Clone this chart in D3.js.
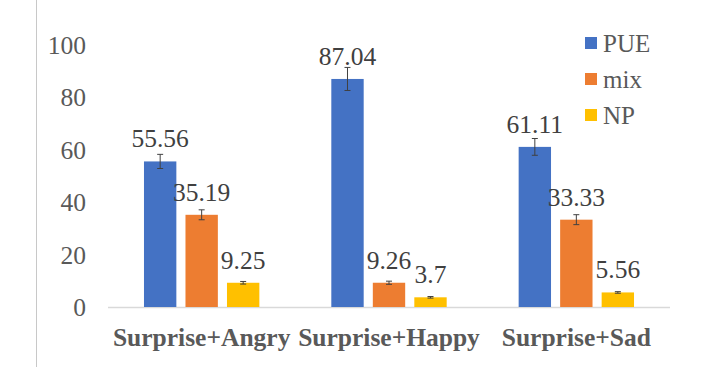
<!DOCTYPE html>
<meta charset="utf-8">
<style>
  body { margin: 0; background: #fff; }
  svg text { font-family: "Liberation Serif", "Times New Roman", Times, serif; }
</style>
<svg width="703" height="382"></svg>

<script src="https://d3js.org/d3.v7.min.js"></script>
<script>

	var categories = ["Surprise+Angry", "Surprise+Happy", "Surprise+Sad"];
	var seriesNames = ["PUE", "mix", "NP"];
	var pueValues = [55.56, 87.04, 61.11];
	var mixValues = [35.19, 9.26, 33.33];
	var npValues = [9.25, 3.7, 5.56];
	var pueErrors = [2.7, 4.4, 3.2];
	var mixErrors = [1.9, 0.6, 1.9];
	var npErrors = [0.5, 0.3, 0.3];
	var yTicks = [0, 20, 40, 60, 80, 100];

	var colors = ["#4472C4", "#ED7D31", "#FFC000"];

	var series = [
		{ name: seriesNames[0], values: pueValues, errors: pueErrors },
		{ name: seriesNames[1], values: mixValues, errors: mixErrors },
		{ name: seriesNames[2], values: npValues, errors: npErrors }
	];

	var svg = d3.select("svg");

	var x0 = d3.scaleBand().domain(categories).range([108, 670]);
	var x1 = d3.scaleBand().domain(seriesNames)
		.range([0, x0.bandwidth()])
		.paddingInner(0.22)
		.paddingOuter(0.867);
	var y = d3.scaleLinear().domain([0, 100]).range([307, 45]);
	var z = d3.scaleOrdinal().domain(seriesNames).range(colors);

	// left border line
	svg.append("line")
		.attr("x1", 36.5).attr("x2", 36.5)
		.attr("y1", 0).attr("y2", 367)
		.attr("stroke", "#c8c8c8").attr("stroke-width", 1);

	// y tick labels
	svg.append("g").selectAll("text")
		.data(yTicks)
		.enter().append("text")
		.attr("x", 86)
		.attr("y", function(d) { return y(d); })
		.attr("dy", "0.35em")
		.attr("text-anchor", "end")
		.attr("fill", "#595959")
		.style("font-size", "25.5px")
		.text(function(d) { return d; });

	// baseline
	svg.append("line")
		.attr("x1", x0.range()[0]).attr("x2", x0.range()[1])
		.attr("y1", y(0) + 0.5).attr("y2", y(0) + 0.5)
		.attr("stroke", "#d9d9d9").attr("stroke-width", 1.5);

	var layer = svg.selectAll(".layer")
		.data(series)
		.enter().append("g")
		.attr("class", "layer");

	layer.each(function(s) {
		var g = d3.select(this);
		var rows = categories.map(function(c, i) {
			return { cat: c, v: s.values[i], e: s.errors[i], name: s.name };
		});
		var bx = function(d) { return x0(d.cat) + x1(d.name); };
		var bw = x1.bandwidth();

		g.selectAll("rect")
			.data(rows)
			.enter().append("rect")
			.attr("x", bx)
			.attr("y", function(d) { return y(d.v); })
			.attr("width", bw)
			.attr("height", function(d) { return y(0) - y(d.v); })
			.attr("fill", z(s.name));

		// error bars
		var eb = g.selectAll(".err")
			.data(rows)
			.enter().append("g")
			.attr("class", "err")
			.attr("stroke", "#404040")
			.attr("stroke-width", 1);
		eb.append("line")
			.attr("x1", function(d) { return bx(d) + bw / 2; })
			.attr("x2", function(d) { return bx(d) + bw / 2; })
			.attr("y1", function(d) { return y(d.v + d.e); })
			.attr("y2", function(d) { return y(d.v - d.e); });
		eb.append("line")
			.attr("x1", function(d) { return bx(d) + bw / 2 - 3; })
			.attr("x2", function(d) { return bx(d) + bw / 2 + 3; })
			.attr("y1", function(d) { return y(d.v + d.e); })
			.attr("y2", function(d) { return y(d.v + d.e); });
		eb.append("line")
			.attr("x1", function(d) { return bx(d) + bw / 2 - 3; })
			.attr("x2", function(d) { return bx(d) + bw / 2 + 3; })
			.attr("y1", function(d) { return y(d.v - d.e); })
			.attr("y2", function(d) { return y(d.v - d.e); });

		// value labels
		g.selectAll(".val")
			.data(rows)
			.enter().append("text")
			.attr("class", "val")
			.attr("x", function(d) { return bx(d) + bw / 2; })
			.attr("y", function(d) { return y(d.v) - 14; })
			.attr("text-anchor", "middle")
			.attr("fill", "#404040")
			.style("font-size", "25.5px")
			.text(function(d) { return d.v; });
	});

	// category labels
	svg.append("g").selectAll("text")
		.data(categories)
		.enter().append("text")
		.attr("x", function(d) { return x0(d) + x0.bandwidth() / 2; })
		.attr("y", 346)
		.attr("text-anchor", "middle")
		.attr("fill", "#595959")
		.attr("font-weight", "bold")
		.style("font-size", "25.5px")
		.text(function(d) { return d; });

	// LEGEND
	var legend = svg.append("g").selectAll("g")
		.data(seriesNames)
		.enter().append("g")
		.attr("transform", function(d, i) { return "translate(585," + (43 + i * 36) + ")"; });

	legend.append("rect")
		.attr("x", 0).attr("y", -6)
		.attr("width", 12).attr("height", 12)
		.attr("fill", function(d) { return z(d); });

	legend.append("text")
		.attr("x", 18)
		.attr("dy", "0.35em")
		.attr("fill", "#595959")
		.style("font-size", "25px")
		.text(function(d) { return d; });

</script>
